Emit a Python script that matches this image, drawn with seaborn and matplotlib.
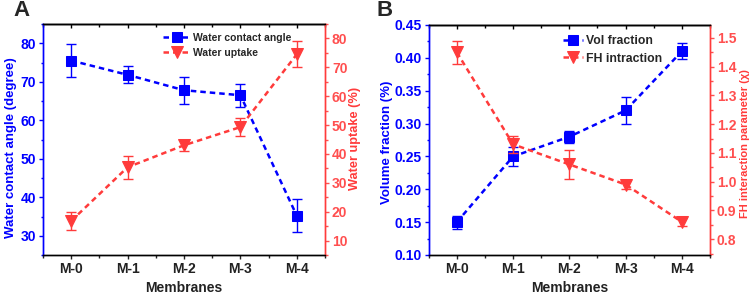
import numpy as np
import pandas as pd
import matplotlib
matplotlib.use("Agg")
import matplotlib.pyplot as plt
import seaborn as sns
from matplotlib.ticker import MultipleLocator, FormatStrFormatter

sns.set_theme(style="white")
plt.rcParams['font.family'] = ['Liberation Sans', 'DejaVu Sans']
plt.rcParams['font.weight'] = 'bold'

membranes = ["M-0", "M-1", "M-2", "M-3", "M-4"]
contact_angle = [75.5, 71.8, 67.8, 66.5, 35.2]
contact_angle_err = [4.3, 2.2, 3.5, 3.0, 4.3]
water_uptake = [16.8, 35.4, 43.0, 49.3, 74.5]
water_uptake_err = [3.0, 4.0, 2.0, 3.0, 4.5]
vol_fraction = [0.15, 0.25, 0.28, 0.32, 0.41]
vol_fraction_err = [0.010, 0.015, 0.009, 0.020, 0.012]
fh_param = [1.45, 1.13, 1.06, 0.99, 0.86]
fh_param_err = [0.04, 0.03, 0.05, 0.015, 0.015]

BLUE = '#0000ff'
RED = '#ff3b3b'
RED_T = '#ff4f4f'

fig = plt.figure(figsize=(7.54, 2.96), dpi=100)
axA = fig.add_axes([43/754, 1-255/296, (325-43)/754, (255-24)/296])
axB = fig.add_axes([428.7/754, 1-255/296, (710-428.7)/754, (255-25)/296])

x = np.arange(len(membranes))

def draw(ax, left_vals, left_err, right_vals, right_err, left_lab, right_lab,
         lab_fs, leg_labels, ylimL, ylimR, majL, majR, fmtL, fmtR, leg_pos, leg_fs,
         handlelen, lab_pos):
    ax2 = ax.twinx()
    dfL = pd.DataFrame({"x": x, "y": left_vals})
    dfR = pd.DataFrame({"x": x, "y": right_vals})
    sns.lineplot(data=dfL, x="x", y="y", ax=ax, color=BLUE, lw=1.8,
                 linestyle=(0, (2.2, 1.6)), marker='s', markersize=7,
                 markeredgecolor=BLUE, label=leg_labels[0], legend=False, zorder=3)
    ax.errorbar(x, left_vals, yerr=left_err, fmt='none', ecolor=BLUE,
                elinewidth=1, capsize=3.5, capthick=1, zorder=3)
    sns.lineplot(data=dfR, x="x", y="y", ax=ax2, color=RED, lw=1.8,
                 linestyle=(0, (2.2, 1.6)), marker='v', markersize=9,
                 markeredgecolor=RED, label=leg_labels[1], legend=False, zorder=3)
    ax2.errorbar(x, right_vals, yerr=right_err, fmt='none', ecolor=RED,
                 elinewidth=1, capsize=3.5, capthick=1, zorder=3)
    ax.set_xlim(-0.5, 4.5)
    ax.set_xticks(x)
    ax.set_xticklabels(membranes)
    ax.xaxis.set_minor_locator(MultipleLocator(0.5))
    ax.set_ylim(*ylimL)
    ax2.set_ylim(*ylimR)
    ax.yaxis.set_major_locator(MultipleLocator(majL))
    ax.yaxis.set_minor_locator(MultipleLocator(majL/2))
    ax2.yaxis.set_major_locator(MultipleLocator(majR))
    ax2.yaxis.set_minor_locator(MultipleLocator(majR/2))
    ax.yaxis.set_major_formatter(FormatStrFormatter(fmtL))
    ax2.yaxis.set_major_formatter(FormatStrFormatter(fmtR))
    ax.set_xlabel("Membranes", fontsize=10, fontweight='bold', color='#222222', labelpad=4)
    ax.set_ylabel(left_lab, fontsize=lab_fs[0], fontweight='bold', color=BLUE,
                  va='center', ha='center')
    ax2.set_ylabel(right_lab, fontsize=lab_fs[1], fontweight='bold', color=RED,
                   va='center', ha='center', rotation=90)
    ax.yaxis.set_label_coords(lab_pos[0], 1 - lab_pos[2], transform=fig.transFigure)
    ax2.yaxis.set_label_coords(lab_pos[1], 1 - lab_pos[3], transform=fig.transFigure)
    for a in (ax, ax2):
        for s in a.spines.values():
            s.set_linewidth(1)
            s.set_color('black')
        a.spines['left'].set_color(BLUE)
        a.spines['right'].set_color(RED)
    ax.tick_params(axis='x', which='both', bottom=True, top=False, direction='out',
                   colors='#222222', labelsize=10, pad=2)
    ax.tick_params(axis='x', which='major', length=3, width=1)
    ax.tick_params(axis='x', which='minor', length=1.8, width=1)
    secx = ax.secondary_xaxis('top')
    secx.set_xticks(x)
    secx.xaxis.set_minor_locator(MultipleLocator(0.5))
    secx.tick_params(axis='x', which='both', direction='in', labeltop=False,
                     colors='black', width=1)
    secx.tick_params(axis='x', which='major', length=3)
    secx.tick_params(axis='x', which='minor', length=1.8)
    secx.spines['top'].set_linewidth(1)
    ax.tick_params(axis='y', which='both', left=True, direction='out', colors=BLUE,
                   labelsize=10, pad=2)
    ax.tick_params(axis='y', which='major', length=3, width=1)
    ax.tick_params(axis='y', which='minor', length=1.8, width=1)
    ax2.tick_params(axis='y', which='both', right=True, direction='out', colors=RED_T,
                    labelsize=10, pad=2)
    ax2.tick_params(axis='y', which='major', length=3, width=1)
    ax2.tick_params(axis='y', which='minor', length=1.8, width=1)
    for lbl in ax.get_xticklabels() + ax.get_yticklabels() + ax2.get_yticklabels():
        lbl.set_fontweight('bold')
    h1, l1 = ax.get_legend_handles_labels()
    h2, l2 = ax2.get_legend_handles_labels()
    leg = ax2.legend(h1 + h2, l1 + l2, loc='upper left', bbox_to_anchor=leg_pos,
                     bbox_transform=fig.transFigure, frameon=False,
                     fontsize=leg_fs, handlelength=handlelen, handletextpad=0.25,
                     labelspacing=0.45, borderaxespad=0, borderpad=0)
    for t in leg.get_texts():
        t.set_fontweight('bold')
    return ax2

draw(axA, contact_angle, contact_angle_err, water_uptake, water_uptake_err,
     "Water contact angle (degree)", "Water uptake (%)", (9.5, 9.2),
     ["Water contact angle", "Water uptake"], (25, 85), (5, 85), 10, 10,
     '%d', '%d', (163/754, 1-33/296), 7.5, 2.6,
     (11/754, 355/754, 148/296, 138/296))
draw(axB, vol_fraction, vol_fraction_err, fh_param, fh_param_err,
     "Volume fraction (%)", "FH interaction parameter (\u03c7)", (9.5, 8.0),
     ["Vol fraction", "FH intraction"], (0.10, 0.45), (0.745, 1.545), 0.05, 0.1,
     '%.2f', '%.1f', (563/754, 1-35/296), 8.8, 1.6,
     (387/754, 745/754, 142/296, 144/296))

fig.text(13/754, 1-11/296, "A", fontsize=16, fontweight='bold', va='center', ha='left')
fig.text(377/754, 1-11/296, "B", fontsize=16, fontweight='bold', va='center', ha='left')

fig.savefig("out.png", dpi=100)
